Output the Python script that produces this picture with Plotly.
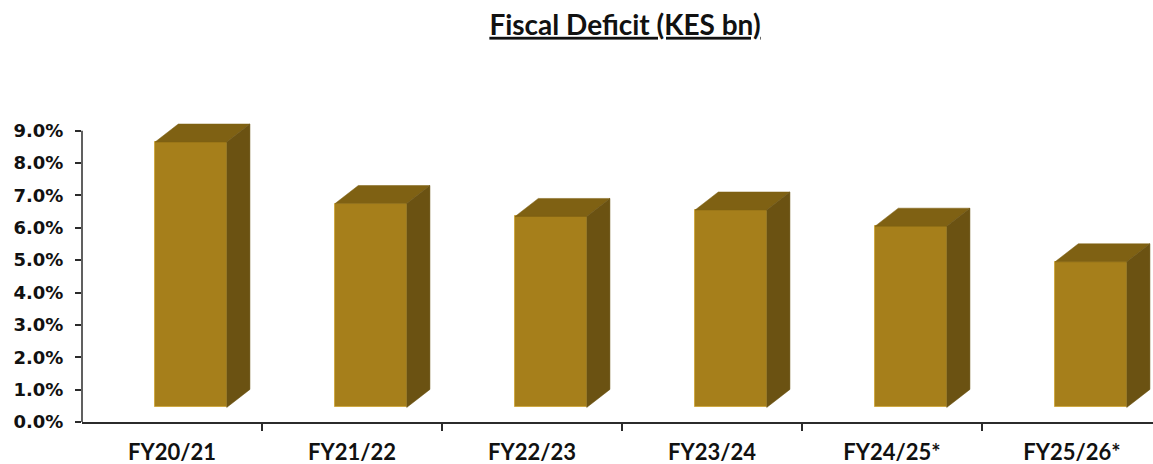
import plotly.graph_objects as go

# Fiscal deficit as % of GDP by fiscal year
categories = ["FY20/21", "FY21/22", "FY22/23", "FY23/24", "FY24/25*", "FY25/26*"]
deficit_pct = [8.2, 6.3, 5.9, 6.1, 5.6, 4.5]
y_ticks = [0, 1, 2, 3, 4, 5, 6, 7, 8, 9]
y_tick_text = [f"{v:.1f}%" for v in y_ticks]

# pseudo-3D column geometry (in axis units)
FLOOR = 0.45          # front face sits slightly above the value axis floor
LEFT, RIGHT = -0.094, 0.304
DEPTH_X, DEPTH_Y = 0.129, 0.557

FRONT = "#A67F1B"
TOP = "#7F6113"
SIDE = "#6B5212"
EDGE = "#CFA944"

xs = list(range(len(categories)))

fig = go.Figure()

# front faces
fig.add_trace(go.Bar(
    x=xs, y=deficit_pct, base=[FLOOR] * len(xs),
    offset=LEFT, width=RIGHT - LEFT,
    marker=dict(color=FRONT, line=dict(color=EDGE, width=1)),
    hoverinfo="skip", showlegend=False,
))

# top and side faces of each column
for i, v in zip(xs, deficit_pct):
    x0, x1 = i + LEFT, i + RIGHT
    t = FLOOR + v
    fig.add_trace(go.Scatter(
        x=[x0, x1, x1 + DEPTH_X, x0 + DEPTH_X, x0],
        y=[t, t, t + DEPTH_Y, t + DEPTH_Y, t],
        mode="lines", fill="toself", fillcolor=TOP,
        line=dict(color=TOP, width=0.5),
        hoverinfo="skip", showlegend=False,
    ))
    fig.add_trace(go.Scatter(
        x=[x1, x1, x1 + DEPTH_X, x1 + DEPTH_X, x1],
        y=[FLOOR, t, t + DEPTH_Y, FLOOR + DEPTH_Y, FLOOR],
        mode="lines", fill="toself", fillcolor=SIDE,
        line=dict(color=SIDE, width=0.5),
        hoverinfo="skip", showlegend=False,
    ))

# value axis line from 0 to 9%
fig.add_shape(type="line", xref="paper", yref="y", x0=0, x1=0, y0=0, y1=9,
              line=dict(color="#2b2b2b", width=1.5))

fig.update_layout(
    width=1153, height=464,
    margin=dict(l=82, r=0, t=121, b=42),
    paper_bgcolor="white", plot_bgcolor="white",
    bargap=0,
    title=dict(
        text="<b><u>Fiscal Deficit (KES bn)</u></b>",
        x=625 / 1153, xanchor="center", xref="container",
        y=1 - 25 / 464, yanchor="middle", yref="container",
        font=dict(family="Lato", size=28, color="#111111"),
    ),
    xaxis=dict(
        range=[-0.5, 5.45], tickvals=xs, ticktext=[f"<b>{c}</b>" for c in categories],
        ticks="", showgrid=False, zeroline=False,
        showline=True, linecolor="#2b2b2b", linewidth=2,
        tickfont=dict(family="Lato", size=22, color="#111111"),
        ticklabelstandoff=10,
        minor=dict(tickvals=[0.5, 1.5, 2.5, 3.5, 4.5], ticks="outside",
                   ticklen=7, tickwidth=1.5, tickcolor="#2b2b2b"),
        fixedrange=True,
    ),
    yaxis=dict(
        range=[0, 9.3], tickvals=y_ticks, ticktext=[f"<b>{t}</b>" for t in y_tick_text],
        ticks="outside", ticklen=6, tickwidth=1.5, tickcolor="#2b2b2b",
        showgrid=False, zeroline=False, showline=False,
        tickfont=dict(family="DejaVu Sans", size=18, color="#111111"),
        ticklabelstandoff=8,
        fixedrange=True,
    ),
)

fig.write_html("out.html")
